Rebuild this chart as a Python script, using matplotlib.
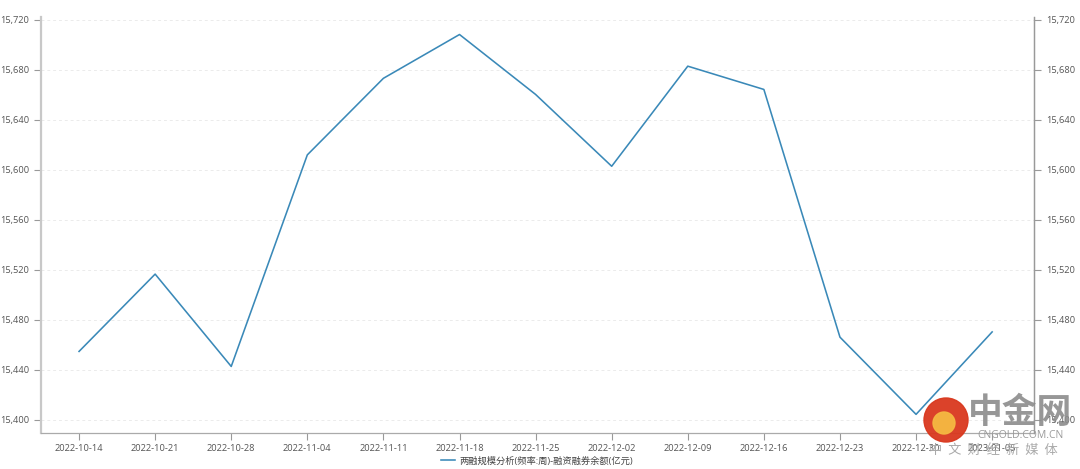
import matplotlib
matplotlib.use("Agg")
import matplotlib.pyplot as plt
from matplotlib.patches import Circle
from matplotlib.ticker import FuncFormatter

plt.rcParams['font.family'] = ['Open Sans', 'Noto Sans CJK SC', 'DejaVu Sans']

dates = ["2022-10-14", "2022-10-21", "2022-10-28", "2022-11-04", "2022-11-11",
         "2022-11-18", "2022-11-25", "2022-12-02", "2022-12-09", "2022-12-16",
         "2022-12-23", "2022-12-30", "2023-01-05"]
values = [15454.7, 15516.5, 15442.7, 15611.8, 15673.0, 15708.0, 15660.1,
          15602.7, 15682.7, 15664.1, 15466.1, 15404.4, 15470.3]
yticks = [15400, 15440, 15480, 15520, 15560, 15600, 15640, 15680, 15720]
series_name = "两融规模分析(频率:周)-融资融券余额(亿元)"

line_color = "#3a89b8"
tick_color = "#555555"

fig = plt.figure(figsize=(10.8, 4.69), dpi=100)
ax = fig.add_axes([41 / 1080, 1 - 433 / 469, (1034 - 41) / 1080, (433 - 17) / 469])
x = list(range(len(dates)))
ax.plot(x, values, color=line_color, lw=1.15, label=series_name)

ax.set_xlim(-0.5, len(dates) - 0.45)
ax.set_ylim(15389.5, 15722)
ax.set_xticks(x)
ax.set_xticklabels(dates)
ax.set_yticks(yticks)
fmt = FuncFormatter(lambda v, p: f"{int(v):,}")
ax.yaxis.set_major_formatter(fmt)
ax.grid(axis='y', color='#ebebeb', linestyle=(0, (3, 3)), lw=0.7)
ax.set_axisbelow(True)

ax.spines['top'].set_visible(False)
ax.spines['left'].set_color('#c8c8c8')
ax.spines['left'].set_linewidth(1.6)
ax.spines['bottom'].set_color('#aaaaaa')
ax.spines['bottom'].set_linewidth(0.9)
ax.spines['right'].set_color('#999999')
ax.spines['right'].set_linewidth(0.9)
ax.tick_params(axis='both', labelsize=6.7, colors='#999999', labelcolor=tick_color,
               length=5, width=0.8)
ax.tick_params(axis='x', pad=3)

ax2 = ax.twinx()
ax2.set_ylim(ax.get_ylim())
ax2.set_yticks(yticks)
ax2.yaxis.set_major_formatter(fmt)
ax2.tick_params(axis='y', labelsize=6.7, colors='#999999', labelcolor=tick_color,
                length=5, width=0.8)
for s in ['top', 'left', 'bottom']:
    ax2.spines[s].set_visible(False)
ax2.spines['right'].set_color('#999999')
ax2.spines['right'].set_linewidth(0.9)

leg = fig.legend(loc='center', bbox_to_anchor=(537 / 1080, 1 - 461 / 469), frameon=False,
                 fontsize=6.7, handlelength=1.5, handletextpad=0.5)
for t in leg.get_texts():
    t.set_color('#444444')

# watermark
wm_ax = fig.add_axes([0, 0, 1, 1], facecolor='none')
wm_ax.set_xlim(0, 1080)
wm_ax.set_ylim(469, 0)
wm_ax.axis('off')
wm_ax.add_patch(Circle((946, 420), 22, color='#d9381e', alpha=0.95))
wm_ax.add_patch(Circle((944, 423), 11, color='#f5b942', alpha=0.95))
wm_ax.text(1020, 412, "中金网", fontsize=25, color='#8c8c8c', ha='center', va='center',
           fontweight='bold', alpha=0.9, family=['Noto Sans CJK SC'])
wm_ax.text(1020, 436, "CNGOLD.COM.CN", fontsize=7.5, color='#9a9a9a', ha='center', va='center')
wm_ax.text(993, 450, "中  文  财  经  新  媒  体", fontsize=9.5, color='#aaaaaa', ha='center',
           va='center', family=['Noto Sans CJK SC'])

fig.savefig("out.png", dpi=100, facecolor='white')
